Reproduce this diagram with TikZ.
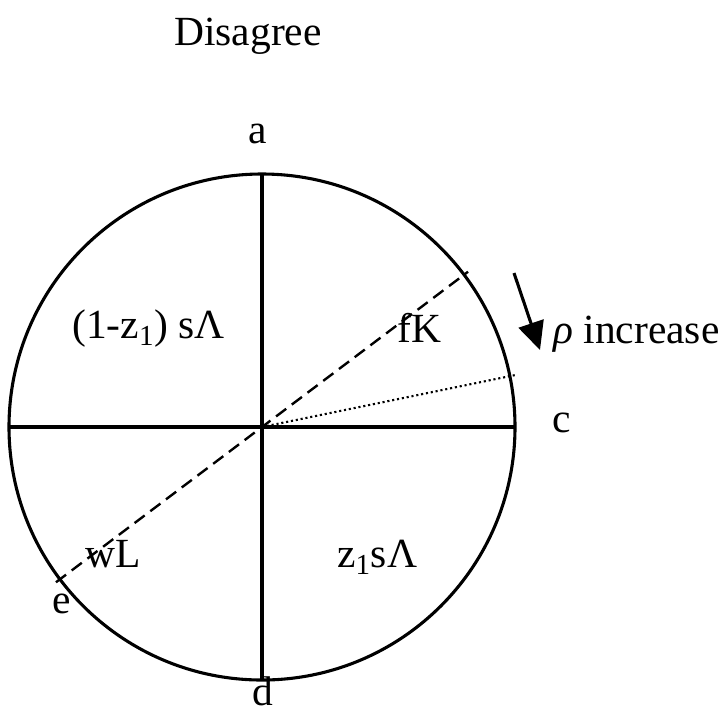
\documentclass[tikz,border=0pt]{standalone}
\usepackage{fontspec}
\setmainfont{Liberation Serif}
\usetikzlibrary{arrows.meta}
\usetikzlibrary{positioning}
\usetikzlibrary{calc}
\tikzset{
  dg label/.style={
    font=\fontsize{29.5}{34}\selectfont,
    inner sep=0pt,
    anchor=base,
  },
}
\tikzset{
  dg line/.style={
    draw=black,
    line width=2.2pt,
  },
}
\tikzset{
  dg figure/.style={
    x=0.025cm,
    y=-0.025cm,
  },
}

\begin{document}
\begin{tikzpicture}[dg figure]
  \useasboundingbox (0,0) rectangle (727,713);

  % =========================================================================
  % Circle and its axes
  % =========================================================================
  \coordinate (ctr) at (262,427);
  \draw[dg line] (ctr) circle[radius=253];
  \coordinate (top) at (262,174);
  \coordinate (bot) at (262,680);
  \coordinate (lft) at (9,427);
  \coordinate (rgt) at (515,427);
  \draw[dg line] (top) -- (bot);
  \draw[dg line] (lft) -- (rgt);

  % =========================================================================
  % Dashed diameter (fK -- wL) and dotted radius
  % (y axis points down, so upward angles are negative)
  % =========================================================================
  \coordinate (fkend) at ($(ctr)+(-37:258)$);
  \coordinate (wlend) at ($(ctr)+(143:258)$);
  \draw[line width=1.7pt, dash pattern=on 9pt off 5pt] (wlend) -- (fkend);
  \coordinate (dotend) at ($(ctr)+(-11.6:258)$);
  \draw[line width=1.5pt, dotted] (ctr) -- (dotend);

  % =========================================================================
  % Point labels
  % =========================================================================
  \node[dg label] (title) at (248,45) {Disagree};
  \node[dg label] (la) at (258,143) {a};
  \node[dg label] (lc) at (562,432) {c};
  \node[dg label] (ld) at (263,705) {d};
  \node[dg label] (le) at (62,613) {e};

  % =========================================================================
  % Sector labels
  % =========================================================================
  \node[dg label, anchor=base west] (upleft) at (72,338) {(1-z\textsubscript{1}) sΛ};
  \node[dg label, anchor=base west] (fk) at (397,342) {fK};
  \node[dg label, anchor=base west] (wl) at (85,567) {wL};
  \node[dg label, anchor=base west] (lowright) at (337,567) {z\textsubscript{1}sΛ};

  % =========================================================================
  % rho increase arrow
  % =========================================================================
  \coordinate (arrstart) at (514,273);
  \coordinate (arrtip) at (540,350);
  \draw[line width=2.2pt, -{Triangle[length=0.7cm, width=0.65cm]}]
    (arrstart) -- (arrtip);
  \node[dg label, anchor=base west] (rho) at (553,343) {\textit{ρ} increase};

\end{tikzpicture}
\end{document}
